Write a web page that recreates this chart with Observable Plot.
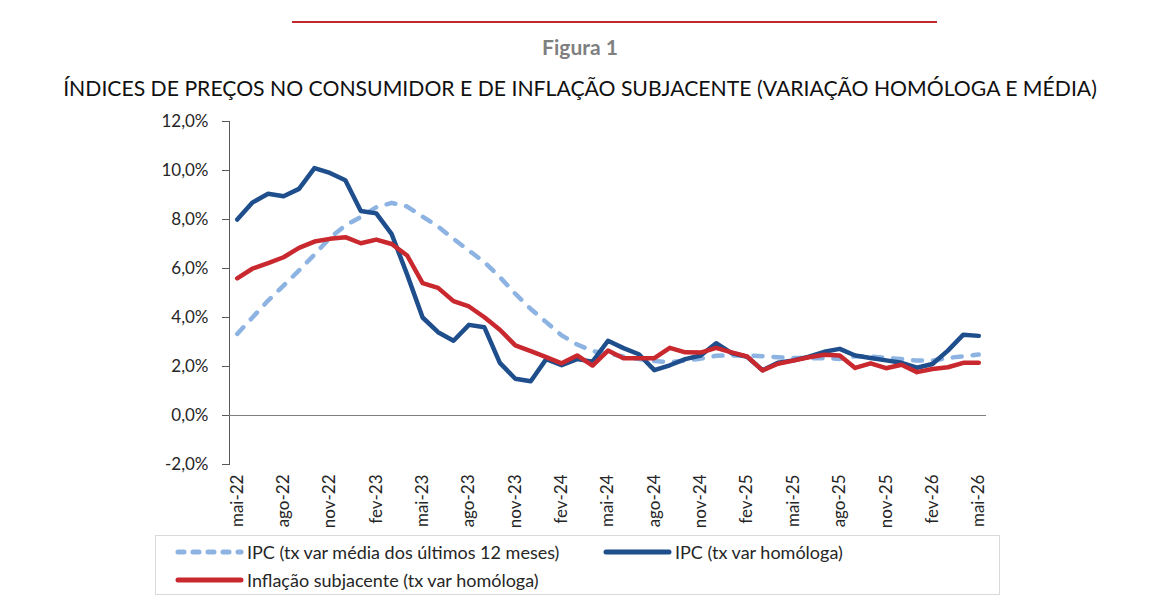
<!DOCTYPE html>
<html>
<head>
<meta charset="utf-8">
<script src="https://cdn.jsdelivr.net/npm/d3@7"></script>
<script src="https://cdn.jsdelivr.net/npm/@observablehq/plot@0.6"></script>
<style>
  html, body { margin: 0; padding: 0; background: #fff; }
  body { width: 1167px; height: 607px; position: relative; overflow: hidden; font-family: Lato, "Open Sans", sans-serif; color: #262626; }
  .topline { position: absolute; left: 292px; top: 21px; width: 645px; height: 2px; background: #c0282d; }
  .fig { position: absolute; left: 0; width: 1160px; top: 34px; text-align: center; font-size: 21px; font-weight: bold; color: #7f7f7f; }
  .title { position: absolute; left: 0; width: 1160px; top: 75px; text-align: center; font-size: 21.2px; color: #111; white-space: nowrap; }
  #chart { position: absolute; left: 0; top: 0; }
  .legend { position: absolute; left: 155px; top: 535px; width: 845px; height: 60px; border: 1px solid #d9d9d9; box-sizing: border-box; font-size: 18px; color: #262626; }
  .item { position: absolute; display: flex; align-items: center; white-space: nowrap; }
  .item svg { margin-right: 3px; }
</style>
</head>
<body>
<div class="topline"></div>
<div class="fig">Figura 1</div>
<div class="title">ÍNDICES DE PREÇOS NO CONSUMIDOR E DE INFLAÇÃO SUBJACENTE (VARIAÇÃO HOMÓLOGA E MÉDIA)</div>
<div id="chart"></div>
<div class="legend" id="legend"></div>
<script>
// Months, May 2022 to May 2026
const months = [
  "mai-22","jun-22","jul-22","ago-22","set-22","out-22","nov-22","dez-22",
  "jan-23","fev-23","mar-23","abr-23","mai-23","jun-23","jul-23","ago-23","set-23","out-23","nov-23","dez-23",
  "jan-24","fev-24","mar-24","abr-24","mai-24","jun-24","jul-24","ago-24","set-24","out-24","nov-24","dez-24",
  "jan-25","fev-25","mar-25","abr-25","mai-25","jun-25","jul-25","ago-25","set-25","out-25","nov-25","dez-25",
  "jan-26","fev-26","mar-26","abr-26","mai-26"
];

// Axis labels shown every three months
const tickMonths = [
  "mai-22","ago-22","nov-22","fev-23","mai-23","ago-23","nov-23","fev-24","mai-24",
  "ago-24","nov-24","fev-25","mai-25","ago-25","nov-25","fev-26","mai-26"
];

// IPC, 12-month average rate of change (%)
const ipcMedia12 = [
  3.33, 4.01, 4.69, 5.30, 5.92, 6.57, 7.25, 7.76, 8.10, 8.50,
  8.68, 8.53, 8.12, 7.71, 7.21, 6.73, 6.26, 5.65, 4.97, 4.35,
  3.81, 3.27, 2.90, 2.63, 2.52, 2.41, 2.31, 2.22, 2.18, 2.24,
  2.32, 2.44, 2.45, 2.45, 2.42, 2.38, 2.35, 2.34, 2.34, 2.31,
  2.42, 2.41, 2.35, 2.31, 2.24, 2.24, 2.35, 2.42, 2.49
];

// IPC, year-on-year rate of change (%)
const ipcHomologa = [
  8.00, 8.70, 9.05, 8.95, 9.25, 10.10, 9.90, 9.60, 8.35, 8.25,
  7.40, 5.75, 4.00, 3.40, 3.05, 3.70, 3.60, 2.15, 1.50, 1.40,
  2.30, 2.05, 2.30, 2.20, 3.05, 2.75, 2.50, 1.85, 2.05, 2.30,
  2.45, 2.95, 2.55, 2.40, 1.85, 2.15, 2.25, 2.40, 2.60, 2.72,
  2.45, 2.35, 2.25, 2.15, 1.95, 2.10, 2.65, 3.30, 3.25
];

// Core inflation, year-on-year rate of change (%)
const subjacente = [
  5.60, 6.00, 6.22, 6.46, 6.84, 7.10, 7.21, 7.28, 7.03, 7.18,
  7.00, 6.53, 5.40, 5.21, 4.67, 4.45, 4.01, 3.50, 2.86, 2.63,
  2.38, 2.13, 2.45, 2.04, 2.65, 2.34, 2.34, 2.34, 2.76, 2.58,
  2.57, 2.76, 2.58, 2.41, 1.84, 2.11, 2.24, 2.38, 2.48, 2.45,
  1.94, 2.13, 1.93, 2.07, 1.77, 1.90, 1.97, 2.15, 2.15
];

const yTicks = [-2, 0, 2, 4, 6, 8, 10, 12];

const seriesNames = [
  "IPC (tx var média dos últimos 12 meses)",
  "IPC (tx var homóloga)",
  "Inflação subjacente (tx var homóloga)"
];
const seriesColors = ["#8db3e2", "#1f4e8c", "#c8282e"];

const rows = (vals) => months.map((m, i) => ({month: m, value: vals[i]}));

const fmt = (d) => d.toFixed(1).replace(".", ",") + "%";

const chart = Plot.plot({
  width: 1167,
  height: 607,
  marginTop: 121,
  marginBottom: 143,
  marginLeft: 229,
  marginRight: 181,
  style: {fontFamily: "Lato, 'Open Sans', sans-serif", fontSize: "17px", color: "#262626", background: "transparent"},
  x: {type: "point", domain: months, padding: 0.5, round: false},
  y: {domain: [-2, 12], label: null},
  marks: [
    Plot.frame({anchor: "left", stroke: "#595959"}),
    Plot.ruleY([0], {stroke: "#7f7f7f", strokeWidth: 1}),
    Plot.axisY({ticks: yTicks, tickFormat: fmt, tickSize: 7, tickPadding: 14, stroke: "#595959", fontSize: 17, label: null}),
    Plot.axisX({ticks: tickMonths, tickSize: 0, tickRotate: -90, tickPadding: 10, fontSize: 17, label: null}),
    Plot.lineY(rows(ipcMedia12), {x: "month", y: "value", stroke: seriesColors[0], strokeWidth: 4.5,
      strokeDasharray: "9,11", strokeLinecap: "round"}),
    Plot.lineY(rows(ipcHomologa), {x: "month", y: "value", stroke: seriesColors[1], strokeWidth: 4.5,
      strokeLinejoin: "round"}),
    Plot.lineY(rows(subjacente), {x: "month", y: "value", stroke: seriesColors[2], strokeWidth: 4.5,
      strokeLinejoin: "round"})
  ]
});
document.getElementById("chart").append(chart);

// Legend
const legend = document.getElementById("legend");
const legendPos = [[16, 5], [444, 5], [16, 33]];
seriesNames.forEach((name, i) => {
  const item = document.createElement("div");
  item.className = "item";
  item.style.left = legendPos[i][0] + "px";
  item.style.top = legendPos[i][1] + "px";
  const dash = i === 0 ? ' stroke-dasharray="6,9"' : "";
  item.innerHTML = `<svg width="72" height="20"><line x1="6" y1="10" x2="69" y2="10" stroke="${seriesColors[i]}" stroke-width="5" stroke-linecap="round"${dash}/></svg><span>${name}</span>`;
  legend.append(item);
});
</script>
</body>
</html>
